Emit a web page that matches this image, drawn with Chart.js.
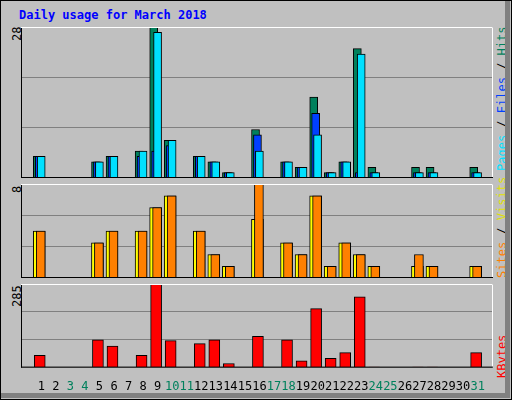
<!DOCTYPE html>
<html><head><meta charset="utf-8">
<script src="https://cdn.jsdelivr.net/npm/chart.js@4"></script>
<style>
body{margin:0;background:#fff}
#w{position:relative;width:510px;height:398px;background:#c0c0c0;border:1px solid #000;overflow:hidden}
#w:after{content:"";position:absolute;left:0;top:0;width:504px;height:392px;border-right:5px solid #808080;border-bottom:5px solid #808080;pointer-events:none}
canvas{position:absolute}
.t{position:absolute;font-family:"DejaVu Sans Mono",monospace;font-size:12px;white-space:nowrap;line-height:14px}
.r{transform-origin:0 0;transform:rotate(-90deg)}
</style></head><body>
<div id="w">
<div class="t" style="left:18px;top:7px;color:#0000ff;font-weight:bold">Daily usage for March 2018</div>
<div class="t r" style="left:9px;top:40px;color:#000">28</div>
<div class="t r" style="left:9px;top:192px;color:#000">8</div>
<div class="t r" style="left:9px;top:306px;color:#000">285</div>
<div class="t r" style="left:494px;top:170px"><span style="color:#00e0ff">Pages</span> / <span style="color:#0040ff">Files</span> / <span style="color:#00805c">Hits</span></div>
<div class="t r" style="left:494px;top:277px"><span style="color:#ff8000">Sites</span> / <span style="color:#e0e000">Visits</span></div>
<div class="t r" style="left:494px;top:377px;color:#ff0000">KBytes</div>
<canvas id="c1" width="472" height="151"></canvas><canvas id="c2" width="472" height="94"></canvas><canvas id="c3" width="472" height="114"></canvas>
</div>
<script>
const days=[1,2,3,4,5,6,7,8,9,10,11,12,13,14,15,16,17,18,19,20,21,22,23,24,25,26,27,28,29,30,31];
const weekend=[3,4,10,11,17,18,24,25,31];
const hits=[4,0,0,0,3,4,0,5,28,7,0,4,3,1,0,9,0,3,2,15,1,3,24,2,0,0,2,2,0,0,2];
const files=[4,0,0,0,3,4,0,4,5,6,0,4,3,1,0,8,0,3,2,12,1,3,1,1,0,0,1,1,0,0,1];
const pages=[4,0,0,0,3,4,0,5,27,7,0,4,3,1,0,5,0,3,2,8,1,3,23,1,0,0,1,1,0,0,1];
const visits=[4,0,0,0,3,4,0,4,6,7,0,4,2,1,0,5,0,3,2,7,1,3,2,1,0,0,1,1,0,0,1];
const sites=[4,0,0,0,3,4,0,4,6,7,0,4,2,1,0,8,0,3,2,7,1,3,2,1,0,0,2,1,0,0,1];
const kbytes=[42,0,0,0,95,73,0,42,285,92,0,82,95,14,0,107,0,95,23,201,32,51,241,2,0,0,2,2,0,0,51];
const maxTop=28,maxMid=8,maxBot=285;

function pts(arr,off){return arr.map((v,i)=>v>0?{x:days[i]+off,y:v}:null).filter(p=>p);}
function ds(arr,off,color,w,order){return {data:pts(arr,off),backgroundColor:color,borderColor:'#000',borderWidth:1,borderSkipped:'bottom',barThickness:w,grouped:false,order:order};}
const frame={id:'frame',afterDraw(c){const a=c.chartArea,x=c.ctx;x.save();x.lineWidth=1;
 x.strokeStyle='#000';x.beginPath();x.moveTo(a.left+0.5,a.top);x.lineTo(a.left+0.5,a.bottom);x.stroke();
 x.strokeStyle='#fff';x.beginPath();x.moveTo(a.left,a.top+0.5);x.lineTo(a.right-0.5,a.top+0.5);x.lineTo(a.right-0.5,a.bottom);x.stroke();
 x.strokeStyle='#000';x.beginPath();x.moveTo(a.left,a.bottom-0.5);x.lineTo(a.right,a.bottom-0.5);x.stroke();x.restore();}};
function make(id,left,top,datasets,max,showX){
 const cv=document.getElementById(id);cv.style.left=left+'px';cv.style.top=top+'px';
 new Chart(cv,{type:'bar',data:{datasets},plugins:[frame],options:{responsive:false,animation:false,devicePixelRatio:1,
  layout:{padding:0},plugins:{legend:{display:false},tooltip:{enabled:false}},
  scales:{x:{type:'linear',min:0.267,max:31.67,display:showX,grid:{display:false},border:{display:false},
    afterBuildTicks:s=>{s.ticks=days.map(v=>({value:v}));},
    ticks:{autoSkip:false,maxRotation:0,labelOffset:2,padding:4,color:c=>weekend.includes(days[c.index])?'#00805c':'#000',
      font:{family:'DejaVu Sans Mono',size:12}}},
   y:{min:0,max:max,display:true,ticks:{display:false,stepSize:max/3},grid:{color:'#808080',drawTicks:false,lineWidth:1},border:{display:false}}}}});
}
make('c1',20,26,[ds(hits,-0.133,'#00805c',8,3),ds(files,0,'#0040ff',8,2),ds(pages,0.133,'#00e0ff',8,1)],maxTop,false);
make('c2',20,183,[ds(visits,0,'#ffff00',12,2),ds(sites,0.1,'#ff8000',9,1)],maxMid,false);
make('c3',20,283,[ds(kbytes,0.033,'#ff0000',11,1)],maxBot,true);
</script></body></html>
